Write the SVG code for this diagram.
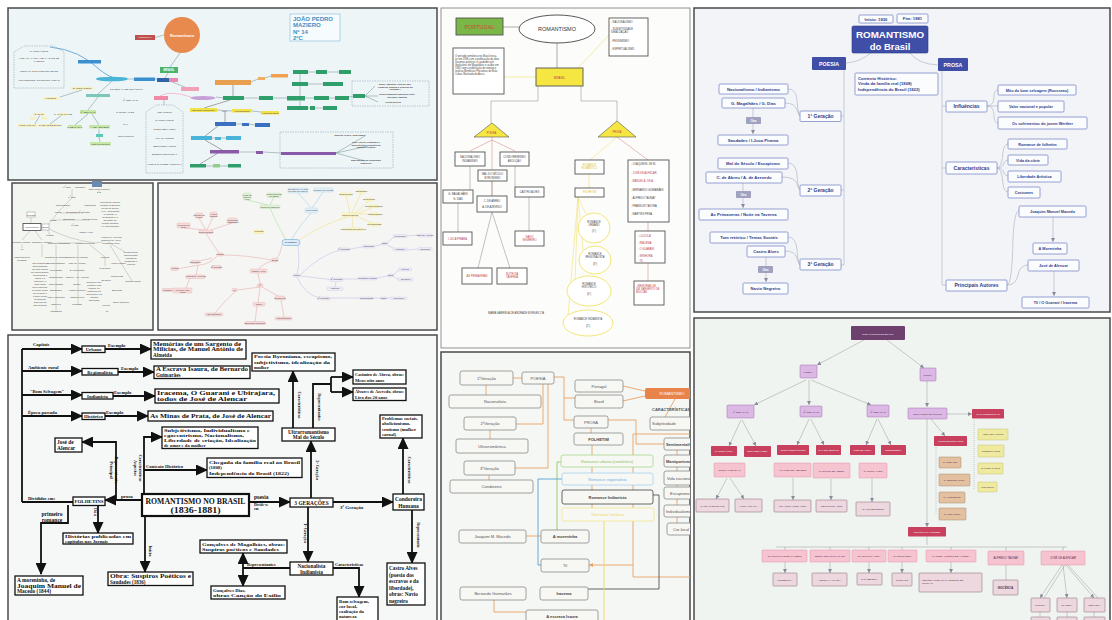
<svg xmlns="http://www.w3.org/2000/svg" width="1112" height="620" viewBox="0 0 1112 620">
<defs>
<style>
.s{font-family:"Liberation Sans",Arial,sans-serif}
.pb{stroke:#4a4a4a;stroke-width:1.5}
.tiny{font-family:"Liberation Sans",Arial,sans-serif;font-size:2.4px;fill:#444}
.b4 text{font-family:"Liberation Serif","Times New Roman",serif;font-weight:bold;fill:#111}
.b4box{fill:#fff;stroke:#111;stroke-width:1.3}
.b4l{stroke:#111;stroke-width:1.8;fill:none}
.p7box{fill:#fbfcfe;stroke:#7e8cc8;stroke-width:0.8}
.p7t{font-family:"Liberation Sans",Arial,sans-serif;font-weight:bold;fill:#2e3d8a;font-size:4.2px}
.p7l{stroke:#b4b8c8;stroke-width:0.7;fill:none}
.p6box{fill:#f7f7f4;stroke:#8a8a8a;stroke-width:0.8}
.p6t{font-family:"Liberation Sans",Arial,sans-serif;fill:#555;font-size:4px}
.p6l{stroke:#eba066;stroke-width:0.9;fill:none}
.p5box{fill:#fff;stroke:#555;stroke-width:0.9}
.p5t{font-family:"Liberation Sans",Arial,sans-serif;fill:#444;font-size:2.6px}
.p5r{fill:#c0404a}
.p8t{font-family:"Liberation Sans",Arial,sans-serif;font-size:2.5px;fill:#5a3050}
.p8w{fill:#fff}
.p8l{stroke:#9a9a9a;stroke-width:0.5;fill:none}
</style>
<marker id="bh" markerWidth="12" markerHeight="11" refX="11" refY="5.5" orient="auto" markerUnits="userSpaceOnUse"><path d="M0,0 L12,5.5 L0,11 z" fill="#111"/></marker>
<marker id="gh" markerWidth="4" markerHeight="4" refX="4" refY="2" orient="auto" markerUnits="userSpaceOnUse"><path d="M0,0 L4,2 L0,4 z" fill="#8a8a9a"/></marker>
<marker id="oh" markerWidth="4" markerHeight="4" refX="4" refY="2" orient="auto" markerUnits="userSpaceOnUse"><path d="M0,0 L4,2 L0,4 z" fill="#eba066"/></marker>
<clipPath id="c6"><rect x="441" y="352" width="249" height="268"/></clipPath>
<clipPath id="c8"><rect x="694" y="318" width="416" height="302"/></clipPath>
<clipPath id="c4"><rect x="8" y="335" width="429" height="285"/></clipPath>
</defs>
<rect x="0" y="0" width="1112" height="620" fill="#ffffff"/>

<!-- ============ PANEL 1 ============ -->
<g id="panel1">
<rect x="8" y="8" width="429" height="172" fill="#eef5f7" class="pb"/>
<g id="p1-connectors" fill="none" stroke="#6a8a90" stroke-width="0.5">
<path d="M164,35 L155,37.5"/>
<path d="M180,53 L170,67"/>
<path d="M50,47 Q80,50 100,70 Q108,76 112,77" stroke="#3a8fd0" stroke-width="0.7"/>
<path d="M128,79 L134,79"/><path d="M155,79 L157,79"/>
<path d="M168,73 L165,78"/><path d="M172,82 L185,87"/>
<path d="M160,96 Q170,90 191,97" stroke="#f08aa8"/>
<path d="M164,100 L164,105"/>
<path d="M216,97 L223,98"/><path d="M233,85 L233,96" stroke="#555"/>
<path d="M251,82 L258,79"/><path d="M265,78 L271,76"/>
<path d="M244,98 L259,98"/><path d="M273,98 L287,98"/><path d="M305,98 L314,98"/><path d="M329,98 L335,98"/><path d="M349,97 L353,96"/>
<path d="M300,74 L300,96"/><path d="M308,72 L316,72"/><path d="M327,72 L339,72"/><path d="M308,84 L323,84"/><path d="M300,101 L300,106"/><path d="M308,108 L310,108"/><path d="M315,108 L323,108"/>
<path d="M365,96 L375,86"/><path d="M365,96 L378,96"/><path d="M365,96 L378,102"/>
<path d="M230,100 L204,108" stroke="#555"/><path d="M217,110 L232,111"/><path d="M252,111 L261,112"/>
<path d="M225,112 L225,122" stroke="#555"/><path d="M236,124 L242,124"/><path d="M249,124 L255,125"/>
<path d="M218,126 L205,136" stroke="#555"/><path d="M212,138 L215,138"/><path d="M221,138 L226,138"/>
<path d="M205,140 L222,150" stroke="#555"/><path d="M239,152 L256,152"/><path d="M263,152 L281,153"/>
<path d="M336,153 L365,136"/><path d="M336,153 L368,146"/><path d="M336,153 L365,161"/>
<path d="M218,153 L200,164" stroke="#555"/><path d="M206,166 L213,166"/><path d="M220,166 L228,166"/>
<path d="M98,97 L88,110"/><path d="M88,114 L75,125"/><path d="M92,114 L99,125"/><path d="M99,129 L99,134"/><path d="M99,137 L100,142"/>
<path d="M112,81 L98,94"/><path d="M82,90 L60,97"/><path d="M40,115 L35,124"/><path d="M62,115 L50,124"/>
</g>
<circle cx="182" cy="35" r="18" fill="#e8894e"/>
<text x="182" y="36.5" font-size="4" font-weight="bold" fill="#fff" text-anchor="middle" class="s">Romantismo</text>
<rect x="135" y="35" width="20" height="5" fill="#c0504d"/>
<text x="145" y="38.3" font-size="2.4" fill="#fff" text-anchor="middle" class="s">PORTUGAL</text>
<rect x="290" y="14" width="50" height="27" fill="#f6fbfd" stroke="#9cc8e0" stroke-width="0.8"/>
<g class="s" font-size="6" font-weight="bold" fill="#3d8fc4">
<text x="293" y="20.5">JOÃO PEDRO</text><text x="293" y="27">MAZIERO</text><text x="293" y="33.5">Nº 14</text><text x="293" y="40">2ºC</text>
</g>
<rect x="160" y="67" width="18" height="6" fill="#4cb36a"/>
<text x="169" y="71.2" font-size="3" font-weight="bold" fill="#fff" text-anchor="middle" class="s">BRASIL</text>
<polygon points="24,46 54,46 64,52 64,88 14,88 14,52" fill="none" stroke="#7a9a9a" stroke-width="0.5" stroke-dasharray="1.5,1"/>
<g class="tiny" text-anchor="middle">
<text x="39" y="52">NACIONALISMO</text><text x="39" y="59">VINDA DA FAMÍLIA REAL AO RIO DE</text><text x="39" y="62">JANEIRO</text><text x="39" y="72">FORMAÇÃO DO PÚBLICO LEITOR</text><text x="39" y="81">MOVIMENTOS ANTICOLONIALISTAS</text>
</g>
<rect x="78" y="60" width="23" height="3.5" fill="#3a8fd0"/>
<ellipse cx="112" cy="79" rx="16" ry="2.3" fill="#4ab4d8"/>
<rect x="134" y="77.5" width="21" height="3.5" fill="#3a8fd0"/>
<rect x="157" y="78" width="12" height="4" fill="#2f64a8"/><rect x="169" y="78" width="9" height="4" fill="#e98aae"/>
<rect x="181" y="87" width="18" height="4" fill="#f2a0b8"/>
<rect x="154" y="96" width="14" height="4" fill="#f08aa8"/>
<ellipse cx="203" cy="98" rx="12.5" ry="2" fill="#c8a0d8"/>
<rect x="215" y="80" width="36" height="5" fill="#e8a050"/><rect x="258" y="77" width="7" height="3" fill="#f0b060"/><rect x="271" y="74" width="17" height="3.5" fill="#f0a050"/>
<g fill="#2e9e6a">
<rect x="223" y="96" width="21" height="4"/><rect x="259" y="96" width="14" height="4"/><rect x="287" y="96" width="18" height="4.5"/><rect x="314" y="96" width="15" height="4"/><rect x="335" y="96" width="14" height="4"/><rect x="353" y="94" width="12" height="4"/>
<rect x="293" y="70" width="15" height="4"/><rect x="316" y="70" width="11" height="4"/><rect x="339" y="70" width="12" height="4"/><rect x="292" y="82" width="16" height="4"/><rect x="323" y="82" width="20" height="4"/>
<rect x="287" y="106" width="21" height="4"/><rect x="310" y="106" width="5" height="4"/><rect x="323" y="106" width="14" height="4"/>
<rect x="190" y="164" width="16" height="3.5"/><rect x="213" y="164" width="7" height="3.5" fill="#8fd08a"/><rect x="228" y="164" width="13" height="3.5"/>
</g>
<rect x="352" y="81" width="77" height="25" fill="none" stroke="#7a9aa8" stroke-width="0.5" stroke-dasharray="1.5,1"/>
<g class="tiny" font-weight="bold" fill="#333" text-anchor="middle">
<text x="395" y="85">Dudu, Tabajara, filha do pajé</text><text x="395" y="87.6">Araquém, guarda o segredo da</text><text x="395" y="90.2">"JUREMA"</text>
<text x="397" y="95">Relacionamento amoroso entre</text><text x="397" y="97.6">Iracema e Martim</text><text x="393" y="102.5">Prosa poética</text>
</g>
<g fill="#f2e24a"><rect x="190" y="108" width="27" height="4"/><rect x="232" y="109" width="20" height="3.5"/><rect x="261" y="111" width="18" height="3.5"/></g>
<g class="tiny" font-size="2.2" text-anchor="middle" fill="#333">
<text x="203.5" y="111">Bernardo Guimarães</text><text x="224.5" y="111.5">obra</text><text x="242" y="111.8">O seminarista</text><text x="270" y="113.8">A escrava Isaura</text>
</g>
<g fill="#3b6fc0"><rect x="215" y="122" width="21" height="4"/><rect x="242" y="123" width="7" height="3"/><rect x="255" y="123" width="15" height="4"/></g>
<g fill="#4ab4d8"><rect x="191" y="136" width="21" height="4"/><rect x="215" y="137" width="6" height="3"/><rect x="226" y="136" width="15" height="4"/></g>
<g fill="#8a5aa8"><rect x="210" y="150" width="29" height="3.5"/><rect x="256" y="151" width="7" height="3"/><rect x="281" y="152" width="55" height="3"/></g>
<rect x="280" y="132" width="113" height="36" fill="none" stroke="#7a9aa8" stroke-width="0.5" stroke-dasharray="1.5,1"/>
<g class="tiny" font-weight="bold" fill="#333" text-anchor="middle">
<text x="350" y="135.8">Espírito crítico, bom humor</text>
<text x="366" y="143">José Garcia, costumes e</text><text x="366" y="145.6">superstições, tradição do</text><text x="366" y="148.2">romance urbano</text>
<text x="366" y="161">Nascimento do jornalismo</text><text x="366" y="163.6">brasileiro</text>
</g>
<polygon points="156,105 173,105 183,112 183,173 146,173 146,112" fill="none" stroke="#7a9aa8" stroke-width="0.5" stroke-dasharray="1.5,1"/>
<g class="tiny" font-size="2.1" text-anchor="middle">
<text x="164.5" y="112.5">INDIANISMO</text><text x="164.5" y="121">NACIONALISMO</text><text x="164.5" y="130">"O BOM SELVAGEM"</text><text x="164.5" y="138.5">VIDA DA CORTE</text><text x="164.5" y="146.5">SENTIMENTALISMO</text><text x="164.5" y="155">SUBJETIVISMO TOTAL</text><text x="164.5" y="165">AMOR E NATUREZA TROPICAL</text>
</g>
<g class="tiny" font-size="2.2">
<text x="110" y="89.5">PRIMEIRA FASE ROMÂNTICA</text><text x="123" y="100.5">2ª GERAÇÃO</text><text x="116" y="112.5">CASTRO ALVES</text><text x="123" y="124.5">MAL</text><text x="118" y="136.5">Navio Negreiro</text>
</g>
<g fill="#f6efc0">
<rect x="71" y="87" width="22" height="3"/><rect x="43" y="97" width="16" height="3"/><rect x="33" y="113" width="12" height="2.5"/><rect x="58" y="113" width="10" height="2.5"/><rect x="30" y="117" width="6" height="2.5"/><rect x="41" y="117" width="6" height="2.5"/><rect x="18" y="124" width="19" height="3"/><rect x="40" y="124" width="20" height="3"/>
</g>
<g class="tiny" font-size="1.9" fill="#9a8a30" text-anchor="middle">
<text x="82" y="89.3">NACIONALISMO</text><text x="51" y="99.3">LIRISMO</text><text x="39" y="115">G. DIAS</text><text x="63" y="115">G. MAGALHÃES</text><text x="27.5" y="126.3">I-JUCA PIRAMA</text><text x="50" y="126.3">CANÇÃO DO EXÍLIO</text>
</g>
<rect x="86" y="94" width="24" height="3" fill="#7cc8b8"/>
<g fill="#c6e8a4"><rect x="80" y="110" width="16" height="4"/><rect x="68" y="125" width="14" height="3.5"/><rect x="89" y="125" width="21" height="3.5"/><rect x="90" y="142" width="21" height="3.5"/></g>
<rect x="96" y="134" width="7" height="3" fill="#5cc8b8"/>
<g class="tiny" font-size="1.9" fill="#3a6a20" text-anchor="middle">
<text x="88" y="112.7">1ª GERAÇÃO</text><text x="75" y="127.5">G. DE MAGAL.</text><text x="99.5" y="127.5">A. DE AZEVEDO</text><text x="100.5" y="144.5">Noite na Taverna</text>
</g>
</g>

<!-- ============ PANEL 2 ============ -->
<g id="panel2">
<rect x="12" y="183" width="141" height="147" fill="#f3f5f1" class="pb"/>
<g id="p2-connectors" fill="none" stroke="#9a9a9a" stroke-width="0.4">
<path d="M41,227 L42,227"/><path d="M31,218 L31,224"/><path d="M47,228 Q70,240 95,243"/><path d="M47,226 L60,210 L72,198 L72,189"/>
<path d="M60,213 L83,213"/><path d="M53,220 L68,220 L90,220"/><path d="M47,229 L50,235"/>
<path d="M57,243 L82,243"/><path d="M95,243 L103,242"/><path d="M56,245 L56,312"/><path d="M78,245 L78,305"/><path d="M90,245 L105,257 L105,266"/><path d="M108,242 L125,252"/><path d="M110,245 L132,281"/>
<path d="M30,231 L22,240"/><path d="M35,231 L42,240"/><path d="M22,244 L22,248"/><path d="M42,244 L42,257"/>
</g>
<rect x="92" y="181" width="10" height="6" fill="#6a8ab0"/>
<rect x="27" y="212" width="8" height="5" fill="#fff" stroke="#777" stroke-width="0.4"/>
<rect x="23" y="223.5" width="18" height="7" fill="#fff" stroke="#555" stroke-width="0.9"/>
<rect x="42" y="224" width="7" height="6" fill="#fff" stroke="#777" stroke-width="0.4"/>
<g class="tiny" font-size="2" text-anchor="middle">
<text x="31" y="215.5">Portugal</text><text x="32" y="228">Romantismo</text><text x="45.5" y="227.8">Brasil</text>
<text x="99" y="189.5">João Paulo da Silva</text><text x="99" y="193">2ºB</text>
<text x="67" y="187.5">1ª fase</text><text x="80" y="187.5">Ufanismo</text><text x="72" y="197.5">1ª fase</text>
<text x="63" y="205.5">Nacionalismo</text><text x="90" y="205.5">Indianismo</text>
<text x="58" y="212.5">Poeta</text><text x="72" y="212.5">Byronismo</text><text x="84" y="212.5">2ª geração</text>
<text x="53" y="220.5">Prosa</text><text x="69" y="219.5">Escapismo</text><text x="90" y="219.5">Mal do século</text>
<text x="75" y="226">3ª fase</text><text x="86" y="233">Castro Alves</text><text x="50" y="235.5">Poesia</text>
<text x="59" y="243.5">Romance Romântico</text><text x="85" y="243.5">Principais autores</text>
<text x="22" y="250">Til</text><text x="22" y="258">Independência</text><text x="22" y="261">do Brasil</text>
</g>
<g class="tiny" font-size="1.5" text-anchor="middle">
<text x="21" y="242.5">Romance Urbano</text><text x="42" y="242.5">Romance Histórico</text>
</g>
<g class="tiny" font-size="1.6" text-anchor="middle">
<text x="56" y="257.5">Romance de folhetim</text><text x="56" y="263.5">Sentimentalismo</text><text x="56" y="270.5">Idealização</text><text x="56" y="278">Subjetivismo</text><text x="56" y="284.5">Nacionalismo</text><text x="56" y="291">Escapismo</text><text x="56" y="297.5">Vida e costumes</text><text x="56" y="305">Natureza</text><text x="56" y="312">Indianismo</text>
<text x="77" y="257.5">Joaquim M. Macedo</text><text x="77" y="263.5">José de Alencar</text><text x="77" y="270.5">B. Guimarães</text><text x="77" y="278">Manuel A. de Almeida</text><text x="77" y="284.5">Taunay</text><text x="77" y="291">Franklin Távora</text><text x="77" y="297.5">Martins Pena</text><text x="77" y="305">Machado</text>
<text x="105" y="257.5">Iracema</text><text x="105" y="268.5">O Guarani</text><text x="106" y="280.5">Senhora</text><text x="106" y="306">Lucíola</text><text x="107" y="312">Til</text>
<text x="118" y="263.5">I-Juca Pirama</text><text x="117" y="277">Primaveras</text><text x="133" y="281.5">Condoreirismo</text><text x="117" y="290.5">Espumas</text><text x="121" y="302.5">Navio Negreiro</text>
</g>
<g class="tiny" font-size="1.6" text-anchor="middle">
<text x="110" y="203">Movimento literário</text><text x="110" y="206">surgido na Europa</text><text x="110" y="209">no fim do século</text><text x="110" y="212">XVIII, valorizando</text><text x="110" y="215">a emoção, o</text><text x="110" y="218">sentimento e a</text><text x="110" y="221">liberdade de</text><text x="110" y="224">criação artística</text><text x="110" y="227">e o nacionalismo</text>
<text x="111" y="238">Álvares de Azevedo</text><text x="111" y="241">Casimiro de Abreu</text><text x="111" y="244">Junqueira Freire</text>
<text x="131" y="253">Poesia social,</text><text x="131" y="256">abolicionista,</text><text x="131" y="259">linguagem</text><text x="131" y="262">grandiosa e</text><text x="131" y="265">retórica</text>
<text x="40" y="264">Os românticos</text><text x="40" y="267">apresentavam</text><text x="40" y="270">um forte apego</text><text x="40" y="273">ao nacionalismo,</text><text x="40" y="276">idealizando a</text><text x="40" y="279">pátria e a</text><text x="40" y="282">natureza, o</text><text x="40" y="285">índio como</text><text x="40" y="288">herói nacional,</text><text x="40" y="291">a mulher como</text><text x="40" y="294">ser perfeito e</text><text x="40" y="297">o amor como</text><text x="40" y="300">sentimento</text><text x="40" y="303">supremo da</text><text x="40" y="306">vida humana</text>
<text x="94" y="283">Romance que</text><text x="94" y="286">retrata a vida</text><text x="94" y="289">urbana, os</text><text x="94" y="292">costumes da</text><text x="94" y="295">burguesia e as</text><text x="94" y="298">intrigas</text><text x="94" y="301">amorosas</text>
</g>
</g>

<!-- ============ PANEL 3 ============ -->
<g id="panel3">
<rect x="158" y="183" width="279" height="147" fill="#f5f6f3" class="pb"/>
<g id="p3-connectors" fill="none" stroke-width="0.6">
<g stroke="#a8d0e8"><path d="M291,240 Q300,225 311,213"/><path d="M311,208 Q305,200 298,193"/><path d="M312,208 Q318,200 323,192"/></g>
<g stroke="#b0dca8"><path d="M286,240 Q275,220 270,208"/><path d="M268,205 L247,200"/><path d="M270,205 L274,197"/></g>
<g stroke="#f0e080"><path d="M298,241 Q320,225 350,216"/><path d="M350,213 L346,195"/><path d="M352,213 L361,193"/><path d="M354,214 L369,201"/><path d="M356,214 L374,207"/><path d="M358,214 L375,214"/><path d="M356,216 L374,224"/><path d="M352,216 L353,228"/></g>
<g stroke="#e8b0b0"><path d="M282,245 Q280,255 277,258"/><path d="M272,260 Q245,255 222,255"/><path d="M219,253 Q210,240 206,233"/><path d="M205,230 L184,228"/><path d="M206,230 L199,218"/><path d="M207,230 L213,217"/><path d="M208,231 L232,223"/>
<path d="M217,256 Q212,262 205,264"/><path d="M212,258 L195,262"/><path d="M205,264 L176,269"/><path d="M198,265 L196,276"/><path d="M190,278 L186,288"/><path d="M184,290 L172,290"/>
<path d="M272,261 Q262,264 258,270"/><path d="M258,273 L260,284"/><path d="M260,287 L237,290 Q225,300 215,313"/><path d="M260,287 L258,303"/><path d="M262,287 L280,297"/><path d="M257,306 L255,322"/><path d="M281,300 L284,317"/></g>
<g stroke="#c8c0e8"><path d="M298,245 Q300,265 297,274"/><path d="M300,275 Q320,255 340,250"/><path d="M350,249 L362,247"/><path d="M375,246 L384,244"/><path d="M387,243 L395,236"/><path d="M407,236 L418,235"/><path d="M387,245 L395,249"/><path d="M407,250 L418,249"/>
<path d="M300,276 L335,280"/><path d="M343,279 L358,279"/><path d="M377,278 L388,276"/><path d="M393,275 L399,270"/><path d="M393,276 L399,280"/><path d="M336,282 L335,287"/><path d="M297,277 Q305,295 320,298"/><path d="M330,298 L360,298"/><path d="M373,298 L380,298"/><path d="M387,298 L390,298"/></g>
</g>
<g class="tiny" font-size="1.8" text-anchor="middle">
<rect x="282" y="239.5" width="18" height="6" rx="3" fill="#dcecf8" stroke="#6aa8d8" stroke-width="0.6"/><text x="291" y="243.3" font-size="2.2" fill="#224">Romantismo</text>
<rect x="254" y="230" width="10" height="3.5" rx="1" fill="#fbf4b8" stroke="#e8d870" stroke-width="0.3"/><text x="259" y="232.4">Portugal</text>
<g fill="#e2f1f8" stroke="#90c8e8" stroke-width="0.3">
<rect x="305" y="208" width="13" height="5" rx="2"/><rect x="288" y="188" width="20" height="5" rx="1"/><rect x="314" y="188" width="19" height="4" rx="1"/></g>
<text x="311.5" y="211.3">Influências</text><text x="298" y="190">Rousseau e o mito</text><text x="298" y="192.2">do bom selvagem</text><text x="323.5" y="190.8">Werther de Goethe</text>
<g fill="#e2f2d8" stroke="#a8d8a0" stroke-width="0.3">
<rect x="260" y="205" width="20" height="3.5" rx="1"/><rect x="243" y="193" width="8" height="7" rx="1"/><rect x="267" y="193" width="14" height="4.5" rx="1"/></g>
<text x="270" y="207.5">Contexto histórico</text><text x="247" y="195.5">Vinda da</text><text x="247" y="197.5">família</text><text x="247" y="199.5">real</text><text x="274" y="195">Independência</text><text x="274" y="197">do Brasil</text>
<g fill="#fbf6c8" stroke="#f0e080" stroke-width="0.3">
<rect x="342" y="213" width="16" height="3.5" rx="1"/><rect x="340" y="193" width="12" height="2.5" rx="1"/><rect x="358" y="190" width="7" height="3" rx="1"/><rect x="365" y="198" width="8" height="3" rx="1"/><rect x="368" y="205" width="12" height="2.5" rx="1"/><rect x="371" y="213" width="9" height="2.5" rx="1"/><rect x="368" y="223" width="13" height="3" rx="1"/><rect x="343" y="228" width="20" height="2.5" rx="1"/></g>
<text x="350" y="215.5">Características</text><text x="346" y="194.8">Subjetivismo</text><text x="361.5" y="192">Escapismo</text><text x="369" y="200">Idealização</text><text x="374" y="206.9">Sentimentalismo</text><text x="375.5" y="214.9">Nacionalismo</text><text x="374.5" y="225">Religiosidade</text><text x="353" y="229.9">Valorização da natureza</text>
<g fill="#f8dcdc" stroke="#e0a0a0" stroke-width="0.3">
<rect x="272" y="258" width="6" height="4" rx="1.5"/><rect x="217" y="253" width="6" height="3" rx="1"/><rect x="199" y="230" width="14" height="3.5" rx="1"/><rect x="177" y="223" width="13" height="5" rx="1"/><rect x="195" y="213" width="8" height="5" rx="1"/><rect x="210" y="212" width="7" height="5" rx="1"/><rect x="228" y="218" width="9" height="5" rx="1"/>
<rect x="191" y="260.5" width="8" height="3" rx="1"/><rect x="212" y="265.5" width="9" height="3.5" rx="1"/><rect x="171" y="267" width="7" height="3.5" rx="1"/><rect x="186" y="275" width="19" height="3.5" rx="1"/><rect x="173" y="288" width="19" height="5" rx="1"/><rect x="162" y="288.5" width="11" height="3" rx="1"/>
<rect x="250" y="269" width="17" height="4" rx="1"/><rect x="257" y="284" width="6" height="3" rx="1"/><rect x="232" y="288.5" width="5" height="3" rx="1"/><rect x="275" y="296" width="10" height="4" rx="1"/><rect x="253" y="302.5" width="12" height="3.5" rx="1"/><rect x="205" y="313" width="18" height="3" rx="1"/><rect x="245" y="321.5" width="20" height="3" rx="1"/><rect x="275" y="317" width="17" height="3" rx="1"/></g>
<text x="275" y="261">Brasil</text><text x="220" y="255.3">Poesia</text><text x="206" y="232.5">Nacionalismo</text><text x="183.5" y="225.5">Gonçalves</text><text x="183.5" y="227.5">Dias</text><text x="199" y="215.5">Canção do</text><text x="199" y="217.5">exílio</text><text x="213.5" y="215">I-Juca</text><text x="213.5" y="217">Pirama</text><text x="232.5" y="220.5">Gonçalves</text><text x="232.5" y="222.5">Magalhães</text>
<text x="195" y="262.6">Indianismo</text><text x="216.5" y="267.8">2ª geração</text><text x="174.5" y="269.3">Álvares</text><text x="195.5" y="277.4">Álvares de Azevedo</text><text x="182.5" y="290.5">Lira dos vinte</text><text x="182.5" y="292.5">anos</text><text x="167.5" y="290.6">Macário</text>
<text x="258.5" y="271.6">Castro Alves</text><text x="260" y="286">3ª</text><text x="234.5" y="290.6">14</text><text x="280" y="298.6">Condoreira</text><text x="259" y="304.8">Navio</text><text x="214" y="315">Os escravos</text><text x="255" y="323.6">Espumas flutuantes</text><text x="283.5" y="319">Abolicionismo</text>
<g fill="#eeeaf8" stroke="#c8c0e8" stroke-width="0.3">
<rect x="293" y="274" width="7" height="3" rx="1"/><rect x="338" y="248" width="12" height="3" rx="1"/><rect x="362" y="245" width="13" height="3" rx="1"/><rect x="382" y="242" width="5" height="3" rx="1"/><rect x="393" y="234.5" width="14" height="3" rx="1"/><rect x="418" y="234" width="14" height="3" rx="1"/><rect x="393" y="248" width="14" height="3" rx="1"/><rect x="418" y="247.5" width="14" height="3" rx="1"/>
<rect x="330" y="278" width="13" height="3.5" rx="1"/><rect x="358" y="277" width="19" height="3" rx="1"/><rect x="388" y="274" width="5" height="3" rx="1"/><rect x="398" y="268" width="14" height="3" rx="1"/><rect x="398" y="278" width="15" height="3" rx="1"/><rect x="327" y="287" width="16" height="3.5" rx="1"/><rect x="317" y="297" width="13" height="3" rx="1"/><rect x="360" y="297" width="13" height="2.5" rx="1"/><rect x="380" y="297" width="7" height="2.5" rx="1"/><rect x="390" y="297" width="17" height="2.5" rx="1"/></g>
<text x="296.5" y="276.2">Prosa</text><text x="344" y="250.2">1ª geração</text><text x="368.5" y="247.2">Indianista</text><text x="384.5" y="244.2">Obra</text><text x="400" y="236.7">O Guarani</text><text x="425" y="236.2">José de Alencar</text><text x="400" y="250.2">Iracema</text><text x="425" y="249.7">Ubirajara</text>
<text x="336.5" y="280.4">2ª geração</text><text x="367.5" y="279.2">Romance urbano</text><text x="390.5" y="276.2">Obra</text><text x="405" y="270.2">Lucíola</text><text x="405.5" y="280.2">Senhora</text><text x="335" y="289.4">Macedo</text><text x="323.5" y="299.2">3ª geração</text><text x="366.5" y="299">Regionalista</text><text x="383.5" y="299">Obra</text><text x="398.5" y="299">Inocência</text>
</g>
</g>

<!-- ============ PANEL 4 ============ -->
<g id="panel4">
<rect x="8" y="335" width="429" height="290" fill="#f6f7f7" class="pb"/>
<g clip-path="url(#c4)">
<g id="p4-connectors">
<path class="b4l" d="M22,349 V502"/>
<path class="b4l" d="M22,349 H82" marker-end="url(#bh)"/><path class="b4l" d="M105,349 H151" marker-end="url(#bh)"/>
<path class="b4l" d="M22,371 H82" marker-end="url(#bh)"/><path class="b4l" d="M118,372 H154" marker-end="url(#bh)"/>
<path class="b4l" d="M22,395 H82" marker-end="url(#bh)"/><path class="b4l" d="M113,396 H155" marker-end="url(#bh)"/>
<path class="b4l" d="M22,416 H82" marker-end="url(#bh)"/><path class="b4l" d="M105,416 H148" marker-end="url(#bh)"/>
<path class="b4l" d="M22,502 H73"/>
<path class="b4l" d="M142,500 H105" marker-end="url(#bh)"/>
<path class="b4l" d="M116,500 V442 H82" marker-end="url(#bh)"/>
<path class="b4l" d="M68,505 V523 H41 V574" marker-end="url(#bh)"/>
<path class="b4l" d="M98,505 V533" marker-end="url(#bh)"/>
<path class="b4l" d="M144,494 V437 H162" marker-end="url(#bh)"/>
<path class="b4l" d="M144,470 H207" marker-end="url(#bh)"/>
<path class="b4l" d="M145,516 V572" marker-end="url(#bh)"/>
<path class="b4l" d="M249,502 H290" marker-end="url(#bh)"/>
<path class="b4l" d="M333,502 H393" marker-end="url(#bh)"/>
<path class="b4l" d="M403,494 V438" marker-end="url(#bh)"/>
<path class="b4l" d="M412,510 V563" marker-end="url(#bh)"/>
<path class="b4l" d="M311,498 V441" marker-end="url(#bh)"/>
<path class="b4l" d="M293,428 V371" marker-end="url(#bh)"/>
<path class="b4l" d="M313,428 V384 H331"/><path class="b4l" d="M331,377 V392"/>
<path class="b4l" d="M331,377 H353" marker-end="url(#bh)"/><path class="b4l" d="M331,392 H353" marker-end="url(#bh)"/>
<path class="b4l" d="M308,507 V562" marker-end="url(#bh)"/>
<path class="b4l" d="M290,568 H243"/><path class="b4l" d="M243,568 V553" marker-end="url(#bh)"/><path class="b4l" d="M243,568 V586" marker-end="url(#bh)"/>
<path class="b4l" d="M333,568 H359 V597" marker-end="url(#bh)"/>
</g>
<g class="b4">
<g font-size="4.6">
<text x="33" y="346">Capitais</text><text x="28" y="368.5">Ambiente rural</text><text x="30" y="392.5">"Bom Selvagem"</text><text x="28" y="413.5">Época passada</text>
<text x="108" y="346.5">Exemplo</text><text x="121" y="369.5">Exemplo</text><text x="114" y="393.5">Exemplo</text><text x="106" y="413.5">Exemplo</text>
</g>
<rect class="b4box" x="82" y="346" width="23" height="6.5"/><text x="93.5" y="351" font-size="4.8" text-anchor="middle">Urbano</text>
<rect class="b4box" x="82" y="368.5" width="36" height="6.5"/><text x="100" y="373.5" font-size="4.8" text-anchor="middle">Regionalista</text>
<rect class="b4box" x="82" y="392.5" width="31" height="6.5"/><text x="97.5" y="397.5" font-size="4.8" text-anchor="middle">Indianista</text>
<rect class="b4box" x="82" y="413" width="23" height="6.5"/><text x="93.5" y="418" font-size="4.8" text-anchor="middle">Histórico</text>
<rect class="b4box" x="151" y="340" width="95" height="19"/>
<text x="153" y="345.5" font-size="5.2" textLength="88" lengthAdjust="spacingAndGlyphs">Memórias de um Sargento de</text>
<text x="153" y="351" font-size="5.2" textLength="90" lengthAdjust="spacingAndGlyphs">Milícias, de Manuel Antônio de</text>
<text x="153" y="356.5" font-size="5.2">Almeida</text>
<rect class="b4box" x="154" y="366" width="96" height="12.5"/>
<text x="156" y="371.3" font-size="5.2" textLength="92" lengthAdjust="spacingAndGlyphs">A Escrava Isaura, de Bernardo</text>
<text x="156" y="376.8" font-size="5.2">Guimarães</text>
<rect class="b4box" x="155" y="389" width="124" height="14"/>
<text x="157" y="395" font-size="6.2" textLength="118" lengthAdjust="spacingAndGlyphs">Iracema, O Guarani e Ubirajara,</text>
<text x="157" y="401.3" font-size="6.2" textLength="90" lengthAdjust="spacingAndGlyphs">todos de José de Alencar</text>
<rect class="b4box" x="148" y="411" width="125" height="10"/>
<text x="150" y="418.3" font-size="6.2" textLength="121" lengthAdjust="spacingAndGlyphs">As Minas de Prata, de José de Alencar</text>
<rect class="b4box" x="55" y="438" width="27" height="14"/>
<text x="57" y="444" font-size="5.4">José de</text><text x="57" y="450" font-size="5.4">Alencar</text>
<text font-size="4.4" text-anchor="middle" transform="translate(110,470) rotate(90)">Principal</text>
<text font-size="4.4" text-anchor="middle" transform="translate(114.5,470) rotate(90)">Representante</text>
<text x="28" y="499.5" font-size="4.6">Divididos em:</text>
<rect class="b4box" x="73" y="497" width="32" height="8.5"/><text x="89" y="503.2" font-size="5" text-anchor="middle">FOLHETINS</text>
<text x="121" y="498" font-size="5">prosa</text>
<text x="52" y="515.8" font-size="5.6" text-anchor="middle">primeiro</text><text x="52" y="521.8" font-size="5.6" text-anchor="middle">romance</text>
<text font-size="4.2" text-anchor="middle" transform="translate(94,512) rotate(90)">Dá à</text>
<rect class="b4box" x="63" y="533" width="70" height="11"/>
<text x="65" y="538.2" font-size="4.8" textLength="66" lengthAdjust="spacingAndGlyphs">Histórias publicadas em</text>
<text x="65" y="542.8" font-size="4.8">capítulos nos Jornais</text>
<rect class="b4box" x="15" y="576" width="68" height="19"/>
<text x="17" y="582" font-size="5.4">A moreninha, de</text><text x="17" y="587.6" font-size="5.4" textLength="64" lengthAdjust="spacingAndGlyphs">Joaquim Manuel de</text><text x="17" y="593.2" font-size="5.4">Macedo (1844)</text>
<rect class="b4box" x="162" y="427" width="96" height="21.5"/>
<g font-size="4.7"><text x="164" y="432" textLength="86" lengthAdjust="spacingAndGlyphs">Subjetivismo, Individualismo e</text><text x="164" y="437.2" textLength="80" lengthAdjust="spacingAndGlyphs">egocentrismo, Nacionalismo,</text><text x="164" y="442.4" textLength="92" lengthAdjust="spacingAndGlyphs">Liberdade de criação, Idealização</text><text x="164" y="447.4">de amor e da mulher</text></g>
<text font-size="4.2" text-anchor="middle" transform="translate(134,468) rotate(90)">Aspectos</text>
<text font-size="4.2" text-anchor="middle" transform="translate(138.5,468) rotate(90)">Característicos</text>
<text x="146" y="468" font-size="4.6">Contexto Histórico</text>
<rect class="b4box" x="207" y="458" width="95" height="19.5"/>
<g font-size="4.8"><text x="209" y="463.5" textLength="91" lengthAdjust="spacingAndGlyphs">Chegada da família real ao Brasil</text><text x="209" y="468.7">(1808)</text><text x="209" y="475" textLength="80" lengthAdjust="spacingAndGlyphs">Independência do Brasil (1822)</text></g>
<rect x="142" y="494" width="107" height="22" fill="#fff" stroke="#111" stroke-width="2.2"/>
<text x="195.5" y="503.5" font-size="8" text-anchor="middle" textLength="100" lengthAdjust="spacingAndGlyphs">ROMANTISMO NO BRASIL</text>
<text x="195.5" y="513" font-size="8" text-anchor="middle" textLength="50" lengthAdjust="spacingAndGlyphs">(1836-1881)</text>
<text font-size="4.4" text-anchor="middle" transform="translate(149,551) rotate(90)">Inicia</text>
<rect class="b4box" x="108" y="572" width="85" height="13.5"/>
<text x="110" y="577.6" font-size="5.1" textLength="81" lengthAdjust="spacingAndGlyphs">Obra: Suspiros Poéticos e</text><text x="110" y="583.5" font-size="5.1">Saudades (1836)</text>
<text x="254" y="499" font-size="5.4">poesia</text><text x="254" y="505.5" font-size="3.6">Divide-se</text><text x="254" y="509.5" font-size="3.6">em</text>
<rect class="b4box" x="290" y="498" width="43" height="9"/><text x="311.5" y="504.5" font-size="5.4" text-anchor="middle">3 GERAÇÕES</text>
<text x="340" y="508.5" font-size="5">3ª Geração</text>
<rect class="b4box" x="393" y="494" width="31" height="16"/>
<text x="408.5" y="500.6" font-size="5.5" text-anchor="middle">Condoreira</text><text x="408.5" y="507.6" font-size="5.5" text-anchor="middle">Humana</text>
<rect class="b4box" x="380" y="415" width="42" height="23"/>
<g font-size="4.6"><text x="382" y="420">Problemas sociais,</text><text x="382" y="425.3">abolicionismo,</text><text x="382" y="430.6">erotismo (mulher</text><text x="382" y="435.9">carnal)</text></g>
<text font-size="4.2" text-anchor="middle" transform="translate(407.5,470) rotate(90)">Características</text>
<text font-size="4.2" text-anchor="middle" transform="translate(416.5,535) rotate(90)">Representante</text>
<rect class="b4box" x="387" y="563" width="38" height="42"/>
<g font-size="5.3"><text x="389" y="570">Castro Alves</text><text x="389" y="576.6">(poesia dos</text><text x="389" y="583.2">escravos e da</text><text x="389" y="589.8">liberdade),</text><text x="389" y="596.4">obras: Navio</text><text x="389" y="603">negreiro</text></g>
<text font-size="4.2" text-anchor="middle" transform="translate(315.5,470) rotate(90)">2ª Geração</text>
<rect class="b4box" x="282" y="428" width="53" height="13"/>
<text x="308.5" y="433.6" font-size="5.2" text-anchor="middle">Ultrarromantismo</text><text x="308.5" y="439.2" font-size="5.2" text-anchor="middle">Mal do Século</text>
<text font-size="4.2" text-anchor="middle" transform="translate(298,405) rotate(90)">Características</text>
<rect class="b4box" x="252" y="353" width="83" height="18"/>
<g font-size="4.8"><text x="254" y="358.3" textLength="78" lengthAdjust="spacingAndGlyphs">Poesia Byroniana, escapismo,</text><text x="254" y="363.7" textLength="76" lengthAdjust="spacingAndGlyphs">subjetivismo, idealização da</text><text x="254" y="369">mulher</text></g>
<text font-size="4.2" text-anchor="middle" transform="translate(318,407) rotate(90)">Representantes</text>
<rect class="b4box" x="353" y="370" width="53" height="14"/>
<text x="355" y="375.6" font-size="4.6" textLength="49" lengthAdjust="spacingAndGlyphs">Casimiro de Abreu, obras:</text><text x="355" y="381.5" font-size="4.6">Meus oito anos</text>
<rect class="b4box" x="353" y="388" width="53" height="12.5"/>
<text x="355" y="393.3" font-size="4.6" textLength="49" lengthAdjust="spacingAndGlyphs">Álvares de Azevedo, obras:</text><text x="355" y="398.8" font-size="4.6">Lira dos 20 anos</text>
<text font-size="4.2" text-anchor="middle" transform="translate(304,533) rotate(90)">1ª Geração</text>
<rect class="b4box" x="290" y="562" width="43" height="13"/>
<text x="311.5" y="567.8" font-size="5.3" text-anchor="middle">Nacionalista</text><text x="311.5" y="573.6" font-size="5.3" text-anchor="middle">Indianista</text>
<text x="247" y="566" font-size="4.4">Representantes</text>
<text x="335" y="566" font-size="4.4">Características</text>
<rect class="b4box" x="200" y="540" width="87" height="13"/>
<text x="202" y="545.5" font-size="4.7" textLength="83" lengthAdjust="spacingAndGlyphs">Gonçalves de Magalhães, obras:</text><text x="202" y="551" font-size="4.7" textLength="77" lengthAdjust="spacingAndGlyphs">Suspiros poéticos e Saudades</text>
<rect class="b4box" x="211" y="586" width="74" height="13"/>
<text x="213" y="591.6" font-size="4.8">Gonçalves Dias,</text><text x="213" y="597.2" font-size="4.8" textLength="68" lengthAdjust="spacingAndGlyphs">obras Canção do Exílio</text>
<rect class="b4box" x="337" y="597" width="41" height="26"/>
<g font-size="4.7"><text x="339" y="602.5">Bom selvagem,</text><text x="339" y="607.7">cor local,</text><text x="339" y="612.9">exaltação da</text><text x="339" y="618.1">natureza</text></g>
</g>
</g>
</g>

<!-- ============ PANEL 5 ============ -->
<g id="panel5">
<rect x="441" y="8" width="249" height="340" fill="#fcfcfa" stroke="#777" stroke-width="0.8"/>
<g id="p5-connectors" fill="none" stroke-width="0.6">
<path d="M503,27 H519" stroke="#777"/>
<path d="M557,43 V68" stroke="#777"/>
<path d="M609,35 L578,68" stroke="#f0e070"/>
<path d="M504,77 H536" stroke="#f0e070"/>
<path d="M538,86 V101 H491 V123" stroke="#999"/>
<path d="M581,86 V101 H617 V121" stroke="#999"/>
<path d="M492,137 V196" stroke="#d89090"/>
<path d="M492,140 L470,151 M492,140 L515,151" stroke="#d89090"/>
<path d="M470,166 V190 M458,203 V232" stroke="#999"/>
<path d="M492,181 V196" stroke="#999"/>
<path d="M492,212 L478,268 M492,212 L510,268" stroke="#999"/>
<path d="M515,166 V187 M529,197 V231" stroke="#999"/>
<path d="M617,137 L590,160" stroke="#f0e070"/><path d="M617,137 L648,160" stroke="#d89090"/>
<path d="M589,174 V188" stroke="#f0e070"/>
<path d="M578,197 L586,214 M578,197 L583,250 M578,197 L575,281 M578,197 L568,316" stroke="#f0e070"/>
<path d="M648,222 V293 M648,247 H635 M648,293 H634" stroke="#d89090"/>
</g>
<rect x="456" y="18" width="47" height="17" fill="#7ab648" stroke="#555" stroke-width="0.9"/>
<text x="479.5" y="29" font-size="5.5" fill="#d04a30" text-anchor="middle" class="s">PORTUGAL</text>
<ellipse cx="557" cy="29" rx="38" ry="14" fill="#fff" stroke="#444" stroke-width="0.9"/>
<text x="557" y="31" font-size="5.5" fill="#333" text-anchor="middle" class="s">ROMANTISMO</text>
<rect class="p5box" x="609" y="18" width="39" height="38"/>
<g class="p5t" font-size="2.2"><text x="611" y="22.5">- NACIONALISMO</text><text x="611" y="30">- SUBJETIVIDADE</text><text x="611" y="33">IDEALIZAÇÃO</text><text x="611" y="41.5">- PESSIMISMO</text><text x="611" y="50">- ESPIRITUALISMO</text></g>
<rect class="p5box" x="453" y="48" width="51" height="46"/>
<g class="p5t" font-size="1.9"><text x="455" y="57">O período romântico no Brasil inicia-</text><text x="455" y="60">se em 1836 com a publicação da obra</text><text x="455" y="63">Suspiros poéticos e saudades por</text><text x="455" y="66">Gonçalves de Magalhães e acaba em</text><text x="455" y="69">1881 com a publicação do romance</text><text x="455" y="72">realista Memórias Póstumas de Brás</text><text x="455" y="75">Cubas Machado de Assis.</text></g>
<rect x="536" y="68" width="47" height="18" fill="#f5e642" stroke="#555" stroke-width="0.9"/>
<text x="559.5" y="78.5" font-size="3.2" fill="#c0404a" text-anchor="middle" class="s">BRASIL</text>
<polygon points="492,123 509,137 474,137" fill="#f5e642" stroke="#555" stroke-width="0.6"/>
<text x="491.5" y="134" class="p5t p5r" font-size="2.2" text-anchor="middle">POESIA</text>
<polygon points="617,121 636,137 598,137" fill="#f5e642" stroke="#555" stroke-width="0.6"/>
<text x="617" y="133" class="p5t p5r" font-size="2.2" text-anchor="middle">PROSA</text>
<g class="p5t" font-size="1.9" text-anchor="middle">
<rect class="p5box" x="455" y="152" width="30" height="14"/><text x="470" y="157.5">NACIONALISMO</text><text x="470" y="162">INDIANISMO</text>
<rect class="p5box" x="500" y="152" width="29" height="14"/><text x="514.5" y="157.5">CONDOREIRISMO</text><text x="514.5" y="162">ABOLIÇÃO</text>
<rect class="p5box" x="478" y="170" width="29" height="11"/><text x="492.5" y="174.5">MAL DO SÉCULO</text><text x="492.5" y="178.5">BYRONISMO</text>
<rect class="p5box" x="443" y="190" width="30" height="13"/><text x="458" y="195">G. MAGALHÃES</text><text x="458" y="199.5">G. DIAS</text>
<rect class="p5box" x="443" y="232" width="29" height="13"/><text x="457.5" y="239.5" class="p5r">I-JUCA PIRAMA</text>
<rect class="p5box" x="477" y="196" width="30" height="16"/><text x="492" y="201.5">C. DE ABREU</text><text x="492" y="207.5">A. DE AZEVEDO</text>
<rect class="p5box" x="462" y="268" width="30" height="16"/><text x="477" y="276.5" class="p5r">AS PRIMAVERAS</text>
<rect class="p5box" x="497" y="268" width="30" height="16"/><text x="512" y="275" class="p5r">NOITE NA</text><text x="512" y="278" class="p5r">TAVERNA</text>
<rect class="p5box" x="515" y="187" width="29" height="10"/><text x="529.5" y="192.8">CASTRO ALVES</text>
<rect class="p5box" x="515" y="231" width="29" height="15"/><text x="529.5" y="237.5" class="p5r">NAVIO</text><text x="529.5" y="240.5" class="p5r">NEGREIRO</text>
<rect class="p5box" x="575" y="160" width="29" height="14"/><text x="589.5" y="166" fill="#e0c020">ROMANCE</text><text x="589.5" y="169" fill="#e0c020">ROMÂNTICO</text>
<rect class="p5box" x="575" y="188" width="29" height="9"/><text x="589.5" y="193.3" fill="#e0c020">FOLHETIM</text>
</g>
<g fill="#fff" stroke="#f0e050" stroke-width="0.8">
<ellipse cx="594" cy="228" rx="16" ry="15"/><ellipse cx="595" cy="260" rx="16" ry="14"/><ellipse cx="589" cy="291" rx="22" ry="15"/><ellipse cx="588" cy="323" rx="25" ry="13"/>
</g>
<g class="p5t" font-size="1.8" text-anchor="middle">
<text x="594" y="223">ROMANCE</text><text x="594" y="226">URBANO</text><text x="594" y="232">(1ª)</text>
<text x="595" y="255">ROMANCE</text><text x="595" y="258">REGIONALISTA</text><text x="595" y="265">(3ª)</text>
<text x="589" y="285">ROMANCE</text><text x="589" y="288">HISTÓRICO</text><text x="589" y="295">(4ª)</text>
<text x="588" y="320">ROMANCE INDIANISTA</text><text x="588" y="327">(2ª)</text>
</g>
<rect class="p5box" x="628" y="160" width="41" height="62"/>
<g class="p5t" font-size="1.9"><text x="631" y="165">- JOAQUIM M. DE M.</text><text x="631" y="174" class="p5r">- JOSÉ DE ALENCAR</text><text x="631" y="182" class="p5r">- MANUEL A. DE A.</text><text x="631" y="190.5">- BERNARDO GUIMARÃES</text><text x="631" y="198.5">- ALFREDO TAUNAY</text><text x="631" y="206.5">- FRANKLIN TÁVORA</text><text x="631" y="214.5">- MARTINS PENA</text></g>
<rect class="p5box" x="635" y="231" width="30" height="32"/>
<g class="p5t p5r" font-size="1.9"><text x="638" y="237">- LUCÍOLA</text><text x="638" y="243.5">- IRACEMA</text><text x="638" y="250">- O GUARANI</text><text x="638" y="256.5">- SENHORA</text><text x="638" y="262">- TIL</text></g>
<rect class="p5box" x="634" y="281" width="30" height="24"/>
<g class="p5t p5r" font-size="1.8"><text x="636" y="287">- MEMÓRIAS DE</text><text x="636" y="290">UM SARGENTO DE</text><text x="636" y="293">MILÍCIAS</text></g>
<text x="516" y="313.5" class="p5t" font-size="1.8" text-anchor="middle">MARIA GABRIELA DE ANDRADE BORGES  2ºA</text>
</g>

<!-- ============ PANEL 6 ============ -->
<g id="panel6">
<rect x="441" y="352" width="249" height="270" fill="#f4f7f3" class="pb"/>
<g clip-path="url(#c6)">
<g id="p6-connectors">
<path class="p6l" d="M513,378 H522"/>
<path class="p6l" d="M554,377 H564 V398 H575"/><path class="p6l" d="M564,398 V420 H574"/>
<path class="p6l" d="M543,384 V424 H516"/><path class="p6l" d="M548,384 V468 H515"/>
<path class="p6l" d="M486,385 V395"/><path class="p6l" d="M490,430 V439"/><path class="p6l" d="M489,475 V480"/>
<path class="p6l" d="M623,386 L645,391"/><path class="p6l" d="M623,401 L645,396"/><path class="p6l" d="M675,399 L665,417"/>
<path class="p6l" d="M608,420 H636 V444 H664"/><path class="p6l" d="M633,434 H690"/><path class="p6l" d="M633,434 V577 H690"/>
<path class="p6l" d="M633,565 H589" marker-end="url(#oh)"/>
<path class="p6l" d="M591,428 V433 M592,445 V455 M592,467 V473 M592,485 V490 M592,504 V508"/>
<path class="p6l" d="M677,450 V455 M677,467 V471 M677,485 V487 M677,499 V505 M677,517 V523"/>
<path class="p6l" d="M526,536 H541"/>
<path class="p6l" d="M494,600 V612 H526"/>
<path d="M562,462 H557 V530" stroke="#8cc860" stroke-width="0.9" fill="none"/>
<path d="M562,479 H538 V565 H541" stroke="#5aa0d8" stroke-width="0.9" fill="none"/>
<path d="M653,495 H659 V589 H588" stroke="#555" stroke-width="0.9" fill="none"/>
<path d="M604,521 V620" stroke="#f0d860" stroke-width="0.9" fill="none"/>
</g>
<g class="p6t" text-anchor="middle">
<rect class="p6box" x="460" y="371" width="53" height="14" rx="2"/><text x="486.5" y="379.5">1ºGeração</text>
<rect class="p6box" x="522" y="372" width="32" height="12" rx="2"/><text x="538" y="379.5">POESIA</text>
<rect class="p6box" x="449" y="395" width="92" height="13" rx="2"/><text x="495" y="403">Nacionalista</text>
<rect class="p6box" x="464" y="417" width="52" height="13" rx="2"/><text x="490" y="425">2ºGeração</text>
<rect class="p6box" x="456" y="439" width="72" height="14" rx="2"/><text x="492" y="447.5">Ultrarromântica</text>
<rect class="p6box" x="464" y="461" width="51" height="14" rx="2"/><text x="489.5" y="469.5">3ºGeração</text>
<rect class="p6box" x="450" y="480" width="83" height="13" rx="2"/><text x="491.5" y="488">Condoreiro</text>
<rect class="p6box" x="575" y="380" width="48" height="12" rx="2"/><text x="599" y="387.5">Portugal</text>
<rect class="p6box" x="575" y="395" width="48" height="13" rx="2"/><text x="599" y="403">Brasil</text>
<rect x="645" y="388" width="55" height="11" rx="2" fill="#e8834a"/><text x="672" y="395.3" fill="#fff" font-size="3.6">ROMANTISMO</text>
<text x="652" y="410.5" text-anchor="start" font-weight="bold" font-size="4" fill="#555">CARACTERÍSTICAS</text>
<rect class="p6box" x="650" y="417" width="50" height="13" rx="2"/><text x="652" y="425" text-anchor="start">Subjetividade</text>
<rect class="p6box" x="574" y="416" width="34" height="12" rx="2"/><text x="591" y="423.5">PROSA</text>
<rect class="p6box" x="574" y="433" width="49" height="12" rx="2" stroke="#555"/><text x="598.5" y="440.8" font-weight="bold" fill="#444">FOLHETIM</text>
<rect x="561" y="455" width="92" height="12" rx="2" fill="#f7f7f4" stroke="#a8d890" stroke-width="0.8"/><text x="607" y="462.8" fill="#8cc060">Romance urbano (romântico)</text>
<rect x="562" y="473" width="91" height="12" rx="2" fill="#f7f7f4" stroke="#a8d0f0" stroke-width="0.8"/><text x="607.5" y="480.8" fill="#70b0e0">Romance regionalista</text>
<rect x="562" y="490" width="91" height="14" rx="2" fill="#f7f7f4" stroke="#444" stroke-width="0.8"/><text x="607.5" y="498.8" font-weight="bold" fill="#444">Romance Indianista</text>
<rect x="562" y="508" width="92" height="13" rx="2" fill="#f7f7f4" stroke="#f4e890" stroke-width="0.8"/><text x="608" y="516" fill="#f0d860">Romance histórico</text>
<rect class="p6box" x="664" y="438" width="40" height="12" rx="2" stroke="#555"/><text x="666" y="445.8" text-anchor="start" font-weight="bold" fill="#444">Sentimentalismo</text>
<rect class="p6box" x="664" y="455" width="40" height="12" rx="2" stroke="#555"/><text x="666" y="462.8" text-anchor="start" font-weight="bold" fill="#444">Maniqueísmo</text>
<rect class="p6box" x="664" y="471" width="40" height="14" rx="2"/><text x="667" y="479.8" text-anchor="start">Vida nacional</text>
<rect class="p6box" x="664" y="487" width="40" height="12" rx="2"/><text x="670" y="494.8" text-anchor="start">Escapismo</text>
<rect class="p6box" x="664" y="505" width="40" height="12" rx="2"/><text x="666" y="512.8" text-anchor="start">Individualismo</text>
<rect class="p6box" x="667" y="523" width="40" height="12" rx="2"/><text x="673" y="530.8" text-anchor="start">Cor-local</text>
<rect class="p6box" x="459" y="530" width="67" height="13" rx="2"/><text x="492.5" y="538">Joaquim M. Macedo</text>
<rect class="p6box" x="541" y="530" width="48" height="13" rx="2" stroke="#555"/><text x="565" y="538" font-weight="bold" fill="#444">A moreninha</text>
<rect class="p6box" x="541" y="559" width="48" height="13" rx="2"/><text x="565" y="567">Til</text>
<rect class="p6box" x="460" y="587" width="66" height="13" rx="2"/><text x="493" y="595">Bernardo Guimarães</text>
<rect class="p6box" x="540" y="587" width="48" height="13" rx="2" stroke="#555"/><text x="564" y="595" font-weight="bold" fill="#444">Iracema</text>
<rect class="p6box" x="526" y="610" width="72" height="14" rx="2" stroke="#555"/><text x="562" y="618" font-weight="bold" fill="#444">A escrava Isaura</text>
</g>
</g>
</g>

<!-- ============ PANEL 7 ============ -->
<g id="panel7">
<rect x="694" y="8" width="416" height="304" fill="#f2f4f7" class="pb"/>
<g id="p7-connectors">
<path class="p7l" d="M871,53 Q860,62 846,63"/><path class="p7l" d="M910,53 Q918,64 938,65"/>
<path class="p7l" d="M844,70 V265"/><path class="p7l" d="M841,116 H844 M841,190 H844 M841,265 H844"/>
<path class="p7l" d="M788,89 Q796,89 797,100 Q798,114 800,116"/><path class="p7l" d="M785,103 Q795,103 797,110 Q799,116 800,116"/>
<path class="p7l" d="M788,163 Q796,163 797,175 Q798,188 800,190"/><path class="p7l" d="M782,177 Q795,177 797,184 Q799,190 800,190"/>
<path class="p7l" d="M788,237 Q796,237 797,250 Q798,263 800,265"/><path class="p7l" d="M785,251 Q795,251 797,258 Q799,265 800,265"/>
<path class="p7l" d="M753,108 V134" marker-end="url(#gh)"/><path class="p7l" d="M743,183 V208" marker-end="url(#gh)"/><path class="p7l" d="M766,257 V282" marker-end="url(#gh)"/>
<path class="p7l" d="M942,71 V285"/><path class="p7l" d="M942,106 H946 M942,168 H946 M942,285 H946"/>
<path class="p7l" d="M987,106 Q994,106 994,96 Q994,90 998,90"/><path class="p7l" d="M987,106 H998"/><path class="p7l" d="M987,106 Q994,106 994,116 Q994,123 998,123"/>
<path class="p7l" d="M997,168 Q1002,168 1003,152 Q1004,144 1008,144"/><path class="p7l" d="M997,168 Q1003,168 1004,163 Q1005,160 1008,160"/><path class="p7l" d="M997,168 Q1003,168 1004,173 Q1005,176 1008,176"/><path class="p7l" d="M997,168 Q1002,168 1003,184 Q1004,192 1008,192"/>
<path class="p7l" d="M1007,285 Q1012,285 1013,240 Q1014,211 1019,211"/><path class="p7l" d="M1007,285 Q1016,285 1018,275 Q1020,265 1028,265"/>
<path class="p7l" d="M1053,217 V242" marker-end="url(#gh)"/><path class="p7l" d="M1054,271 V296" marker-end="url(#gh)"/>
</g>
<rect class="p7box" x="859" y="15" width="34" height="8" rx="1"/><text x="876" y="20.5" class="p7t" font-size="3.2" text-anchor="middle">Início: 1836</text>
<rect class="p7box" x="897" y="14" width="31" height="9" rx="1"/><text x="912.5" y="20" class="p7t" font-size="3.2" text-anchor="middle">Fim: 1881</text>
<rect x="852" y="26" width="76" height="27" rx="1.5" fill="#3f4fa8" stroke="#2e3a88" stroke-width="0.6"/>
<text x="890" y="38" class="s" font-size="9.5" font-weight="bold" fill="#fff" text-anchor="middle" textLength="68" lengthAdjust="spacingAndGlyphs">ROMANTISMO</text>
<text x="890" y="50" class="s" font-size="9.5" font-weight="bold" fill="#fff" text-anchor="middle">do Brasil</text>
<rect x="812" y="57" width="34" height="13" rx="1" fill="#3f4fa8"/><text x="829" y="65.5" class="s" font-size="5.3" font-weight="bold" fill="#fff" text-anchor="middle">POESIA</text>
<rect x="938" y="58" width="30" height="13" rx="1" fill="#3f4fa8"/><text x="953" y="66.5" class="s" font-size="5.3" font-weight="bold" fill="#fff" text-anchor="middle">PROSA</text>
<rect class="p7box" x="855" y="73" width="83" height="22" rx="1"/>
<g class="p7t" font-size="3.6"><text x="858" y="79.5">Contexto Histórico:</text><text x="858" y="85">Vinda da família real (1808)</text><text x="858" y="90.5">Independência do Brasil (1822)</text></g>
<g class="p7t" text-anchor="middle">
<rect class="p7box" x="800" y="111" width="41" height="10.5" rx="1"/><text x="820.5" y="118.2" font-size="5">1ª Geração</text>
<rect class="p7box" x="719" y="84" width="69" height="10" rx="1"/><text x="753.5" y="90.6">Nacionalismo / Indianismo</text>
<rect class="p7box" x="722" y="98" width="63" height="10" rx="1"/><text x="753.5" y="104.6">G. Magalhães / G. Dias</text>
<rect x="746" y="117" width="15" height="7" rx="0.8" fill="#a0a2c0"/><text x="753.5" y="121.8" font-size="2.6" fill="#fff">Obra</text>
<rect class="p7box" x="718" y="135" width="70" height="10" rx="1"/><text x="753" y="141.6">Saudades / I-Juca Pirama</text>
<rect class="p7box" x="718" y="158" width="70" height="11" rx="1"/><text x="753" y="165">Mal do Século / Escapismo</text>
<rect class="p7box" x="706" y="172" width="76" height="11" rx="1"/><text x="744" y="179">C. de Abreu / A. de Azevedo</text>
<rect class="p7box" x="800" y="185" width="41" height="11" rx="1"/><text x="820.5" y="192.4" font-size="5">2ª Geração</text>
<rect x="736" y="191" width="15" height="7" rx="0.8" fill="#a0a2c0"/><text x="743.5" y="195.8" font-size="2.6" fill="#fff">Obra</text>
<rect class="p7box" x="699" y="209" width="89" height="11" rx="1"/><text x="743.5" y="216">As Primaveras / Noite na Taverna</text>
<rect class="p7box" x="710" y="232" width="78" height="11" rx="1"/><text x="749" y="239">Tom retórico / Temas Sociais</text>
<rect class="p7box" x="747" y="246" width="38" height="11" rx="1"/><text x="766" y="253">Castro Alves</text>
<rect class="p7box" x="800" y="259" width="41" height="11" rx="1"/><text x="820.5" y="266.4" font-size="5">3ª Geração</text>
<rect x="758" y="266" width="15" height="7" rx="0.8" fill="#a0a2c0"/><text x="765.5" y="270.8" font-size="2.6" fill="#fff">Obra</text>
<rect class="p7box" x="743" y="283" width="45" height="11" rx="1"/><text x="765.5" y="290">Navio Negreiro</text>
<rect class="p7box" x="946" y="101" width="41" height="11" rx="1"/><text x="966.5" y="108.4" font-size="5">Influências</text>
<rect class="p7box" x="998" y="85" width="78" height="10" rx="1"/><text x="1037" y="91.6" font-size="3.8">Mito do bom selvagem (Rousseau)</text>
<rect class="p7box" x="998" y="101" width="66" height="11" rx="1"/><text x="1031" y="108" font-size="3.8">Valor nacional e popular</text>
<rect class="p7box" x="998" y="117" width="89" height="12" rx="1"/><text x="1042.5" y="124.5" font-size="3.8">Os sofrimentos do jovem Werther</text>
<rect class="p7box" x="946" y="162" width="51" height="12" rx="1"/><text x="971.5" y="169.8" font-size="5">Características</text>
<rect class="p7box" x="1008" y="139" width="59" height="10" rx="1"/><text x="1037.5" y="145.6" font-size="3.8">Romance de folhetim</text>
<rect class="p7box" x="1008" y="155" width="40" height="10" rx="1"/><text x="1028" y="161.6" font-size="3.8">Vida da côrte</text>
<rect class="p7box" x="1008" y="171" width="53" height="11" rx="1"/><text x="1034.5" y="178" font-size="3.8">Liberdade Artística</text>
<rect class="p7box" x="1008" y="187" width="32" height="11" rx="1"/><text x="1024" y="194" font-size="3.8">Costumes</text>
<rect class="p7box" x="1019" y="206" width="67" height="11" rx="1"/><text x="1052.5" y="213" font-size="3.8">Joaquim Manuel Macedo</text>
<rect class="p7box" x="1033" y="243" width="34" height="11" rx="1"/><text x="1050" y="250" font-size="3.8">A Moreninha</text>
<rect class="p7box" x="1028" y="260" width="51" height="11" rx="1"/><text x="1053.5" y="267" font-size="3.8">José de Alencar</text>
<rect class="p7box" x="946" y="280" width="61" height="11" rx="1"/><text x="976.5" y="287.4" font-size="5">Principais Autores</text>
<rect class="p7box" x="1022" y="297" width="67" height="11" rx="1"/><text x="1055.5" y="304" font-size="3.8">Til / O Guarani / Iracema</text>
</g>
</g>

<!-- ============ PANEL 8 ============ -->
<g id="panel8">
<rect x="694" y="318" width="416" height="305" fill="#f0f4f1" class="pb"/>
<g clip-path="url(#c8)">
<g id="p8-connectors">
<path class="p8l" d="M864,340 L817,365" marker-end="url(#gh)"/><path class="p8l" d="M887,340 L924,368" marker-end="url(#gh)"/>
<path class="p8l" d="M806,380 L754,405" marker-end="url(#gh)"/><path class="p8l" d="M809,380 V405" marker-end="url(#gh)"/><path class="p8l" d="M811,380 L871,405" marker-end="url(#gh)"/>
<path class="p8l" d="M927,381 V407" marker-end="url(#gh)"/><path class="p8l" d="M947,414 H972" marker-end="url(#gh)"/>
<path class="p8l" d="M741,420 L729,446" marker-end="url(#gh)"/><path class="p8l" d="M742,420 L756,446" marker-end="url(#gh)"/>
<path class="p8l" d="M809,419 L797,445" marker-end="url(#gh)"/><path class="p8l" d="M811,419 L824,445" marker-end="url(#gh)"/>
<path class="p8l" d="M877,419 L866,445" marker-end="url(#gh)"/><path class="p8l" d="M878,419 L891,445" marker-end="url(#gh)"/>
<path class="p8l" d="M727,478 L716,499" marker-end="url(#gh)"/><path class="p8l" d="M730,478 L744,499" marker-end="url(#gh)"/>
<path class="p8l" d="M793,478 V500" marker-end="url(#gh)"/><path class="p8l" d="M831,479 V500" marker-end="url(#gh)"/><path class="p8l" d="M872,478 V502" marker-end="url(#gh)"/>
<path class="p8l" d="M931,419 L945,436" marker-end="url(#gh)"/>
<path class="p8l" d="M936,447 V515" stroke-dasharray="1,1"/><path class="p8l" d="M974,420 V490" stroke-dasharray="1,1"/>
<path class="p8l" d="M927,419 V527" marker-end="url(#gh)"/>
<path class="p8l" d="M927,536 V545"/><path class="p8l" d="M776,547 H1067"/>
<path class="p8l" d="M785,547 V550 M830,547 V550 M869,547 V550 M902,547 V550 M951,547 V550 M1006,547 V551 M1063,547 V551"/>
<path class="p8l" d="M785,562 V573" marker-end="url(#gh)"/><path class="p8l" d="M830,562 V573" marker-end="url(#gh)"/><path class="p8l" d="M869,562 V573" marker-end="url(#gh)"/><path class="p8l" d="M902,562 V573" marker-end="url(#gh)"/><path class="p8l" d="M951,562 V573" marker-end="url(#gh)"/><path class="p8l" d="M1006,565 V580"/>
<path class="p8l" d="M1062,565 L1040,598" marker-end="url(#gh)"/><path class="p8l" d="M1065,565 L1044,598"/><path class="p8l" d="M1063,565 L1067,598" marker-end="url(#gh)"/><path class="p8l" d="M1066,565 L1094,598" marker-end="url(#gh)"/><path class="p8l" d="M1068,565 L1098,598"/>
<path class="p8l" d="M1040,612 V618 M1067,612 V618 M1094,612 V618"/>
</g>
<g text-anchor="middle">
<rect x="851" y="326" width="54" height="14" rx="1" fill="#6e406e"/><text x="878" y="334.5" class="p8t p8w" font-size="2.8">ROMANTISMO NO BRASIL</text>
<g fill="#dcb8e4" stroke="#a070b0" stroke-width="0.5">
<rect x="800" y="365" width="17" height="13" rx="1"/><rect x="920" y="368" width="16" height="13" rx="1"/>
<rect x="727" y="405" width="27" height="13" rx="1"/><rect x="800" y="406" width="22" height="11" rx="1"/><rect x="867" y="405" width="22" height="12" rx="1"/><rect x="908" y="408" width="39" height="11" rx="1"/>
</g>
<text x="808.5" y="372.8" class="p8t">POESIA</text><text x="928" y="375.8" class="p8t">PROSA</text>
<text x="740.5" y="412.6" class="p8t">1ª GERAÇÃO</text><text x="811" y="412.6" class="p8t">2ª GERAÇÃO</text><text x="878" y="412.6" class="p8t">3ª GERAÇÃO</text><text x="927.5" y="414.5" class="p8t" font-size="2.3">ROMANCE ROMÂNTICO</text>
<g fill="#c8405e">
<rect x="972" y="409" width="32" height="9.5" rx="0.8"/><rect x="934" y="436" width="33" height="10" rx="0.8"/><rect x="908" y="527" width="38" height="9.5" rx="0.8"/>
<rect x="711" y="446" width="26" height="10" rx="0.8"/><rect x="744" y="446" width="27" height="11" rx="0.8"/><rect x="777" y="445" width="32" height="10" rx="0.8"/><rect x="816" y="445" width="25" height="10" rx="0.8"/><rect x="850" y="445" width="25" height="10" rx="0.8"/><rect x="881" y="445" width="25" height="10" rx="0.8"/>
</g>
<g class="p8t p8w" font-size="2.2">
<text x="988" y="414.6">CARACTERÍSTICAS</text><text x="950.5" y="441.8">TIPOS DE ROMANCE</text><text x="927" y="532.6">PRINCIPAIS AUTORES</text>
<text x="724" y="451.8">NACIONALISTA</text><text x="757.5" y="452.3">BOM SELVAGEM</text><text x="793" y="450.8">ULTRARROMÂNTICO</text><text x="828.5" y="450.8">MAL DO SÉCULO</text><text x="862.5" y="450.8">PRÉ-REALISTA</text><text x="893.5" y="450.8">CONDOREIRA</text>
</g>
<g fill="#eeeaa0" stroke="#c8c070" stroke-width="0.5">
<rect x="978" y="429" width="30" height="11" rx="0.8"/><rect x="978" y="445" width="26" height="12" rx="0.8"/><rect x="978" y="463" width="25" height="11" rx="0.8"/><rect x="978" y="482" width="19" height="10" rx="0.8"/>
</g>
<g class="p8t" font-size="2.1" fill="#6a6030">
<text x="993" y="435.3">INDIVIDUALISMO</text><text x="991" y="451.8">SUBJETIVISMO</text><text x="990.5" y="469.3">NACIONALISMO</text><text x="987.5" y="487.8">FOLHETIM</text>
</g>
<g fill="#e2c0a0" stroke="#a88868" stroke-width="0.5">
<rect x="939" y="457" width="22" height="11" rx="0.8"/><rect x="939" y="474" width="31" height="12" rx="0.8"/><rect x="939" y="492" width="26" height="11" rx="0.8"/><rect x="939" y="508" width="27" height="12" rx="0.8"/>
</g>
<g class="p8t" font-size="2.1" fill="#6a4a30">
<text x="950" y="463.3">R. URBANO</text><text x="954.5" y="480.8">R. REGIONALISTA</text><text x="952" y="498.3">R. HISTÓRICO</text><text x="952.5" y="514.8">R. INDIANISTA</text>
</g>
<g fill="#f6c4d0" stroke="#e090a8" stroke-width="0.5">
<rect x="714" y="463" width="31" height="14" rx="0.8"/><rect x="774" y="463" width="37" height="14" rx="0.8"/><rect x="813" y="463" width="37" height="15" rx="0.8"/><rect x="859" y="463" width="28" height="15" rx="0.8"/>
<rect x="762" y="550" width="45" height="12" rx="0.8"/><rect x="810" y="550" width="40" height="12" rx="0.8"/><rect x="852" y="550" width="34" height="12" rx="0.8"/><rect x="888" y="550" width="29" height="12" rx="0.8"/><rect x="926" y="550" width="50" height="12" rx="0.8"/><rect x="988" y="551" width="36" height="14" rx="0.8"/><rect x="1041" y="551" width="44" height="14" rx="0.8"/>
</g>
<g class="p8t" font-size="2.1" fill="#b04060">
<text x="729.5" y="471">GONÇALVES DIAS</text><text x="792.5" y="471">ÁLVARES DE AZEVEDO</text><text x="831.5" y="471.5">CASIMIRO DE ABREU</text><text x="873" y="471.5">CASTRO ALVES</text>
<text x="784.5" y="556.8">JOAQUIM MANUEL MACEDO</text><text x="830" y="556.8">BERNARDO GUIMARÃES</text><text x="869" y="556.8">FRANKLIN TÁVORA</text><text x="902.5" y="556.8">MARTINS PENA</text><text x="951" y="556.8">MANOEL ANTÔNIO DE ALMEIDA</text>
<text x="1006" y="559" font-size="2.8">ALFREDO TAUNAY</text><text x="1063" y="559" font-size="2.8">JOSÉ DE ALENCAR</text>
</g>
<g fill="#ecd8de" stroke="#9a7a86" stroke-width="0.6">
<rect x="696" y="499" width="33" height="13" rx="0.8"/><rect x="735" y="499" width="27" height="13" rx="0.8"/><rect x="774" y="500" width="37" height="12" rx="0.8"/><rect x="816" y="500" width="31" height="12" rx="0.8"/><rect x="856" y="502" width="34" height="14" rx="0.8"/>
<rect x="773" y="573" width="24" height="13" rx="0.8"/><rect x="812" y="573" width="35" height="13" rx="0.8"/><rect x="857" y="573" width="25" height="12" rx="0.8"/><rect x="892" y="573" width="20" height="13" rx="0.8"/><rect x="919" y="573" width="63" height="19" rx="0.8"/><rect x="993" y="580" width="25" height="15" rx="0.8"/>
<rect x="1031" y="598" width="19" height="14" rx="0.8"/><rect x="1057" y="598" width="20" height="14" rx="0.8"/><rect x="1084" y="598" width="21" height="14" rx="0.8"/>
<rect x="1031" y="617" width="19" height="8" rx="0.8"/><rect x="1057" y="617" width="20" height="8" rx="0.8"/><rect x="1084" y="617" width="21" height="8" rx="0.8"/>
</g>
<g class="p8t" font-size="2.1" fill="#4a3040">
<text x="712.5" y="506.5">CANÇÃO DO EXÍLIO</text><text x="748.5" y="506.5">I-JUCA PIRAMA</text><text x="792.5" y="507">LIRA DOS VINTE ANOS</text><text x="831.5" y="507">MEUS OITO ANOS</text><text x="873" y="510">NAVIO NEGREIRO</text>
<text x="785" y="580.5">MORENINHA</text><text x="829.5" y="580.5">A ESCRAVA ISAURA</text><text x="869.5" y="580">O CABELEIRA</text><text x="902" y="580.5">O NOVIÇO</text>
<text x="922" y="581" text-anchor="start">MEMÓRIAS DE UM SARGENTO DE</text><text x="922" y="584" text-anchor="start">MILÍCIAS</text>
<text x="1005.5" y="588.8" font-size="2.8" font-weight="bold">INOCÊNCIA</text>
<text x="1040.5" y="605.8">LUCÍOLA</text><text x="1067" y="605.8">IRACEMA</text><text x="1094.5" y="605.8">SENHORA</text>
</g>
</g>
</g>
</g>
</svg>
